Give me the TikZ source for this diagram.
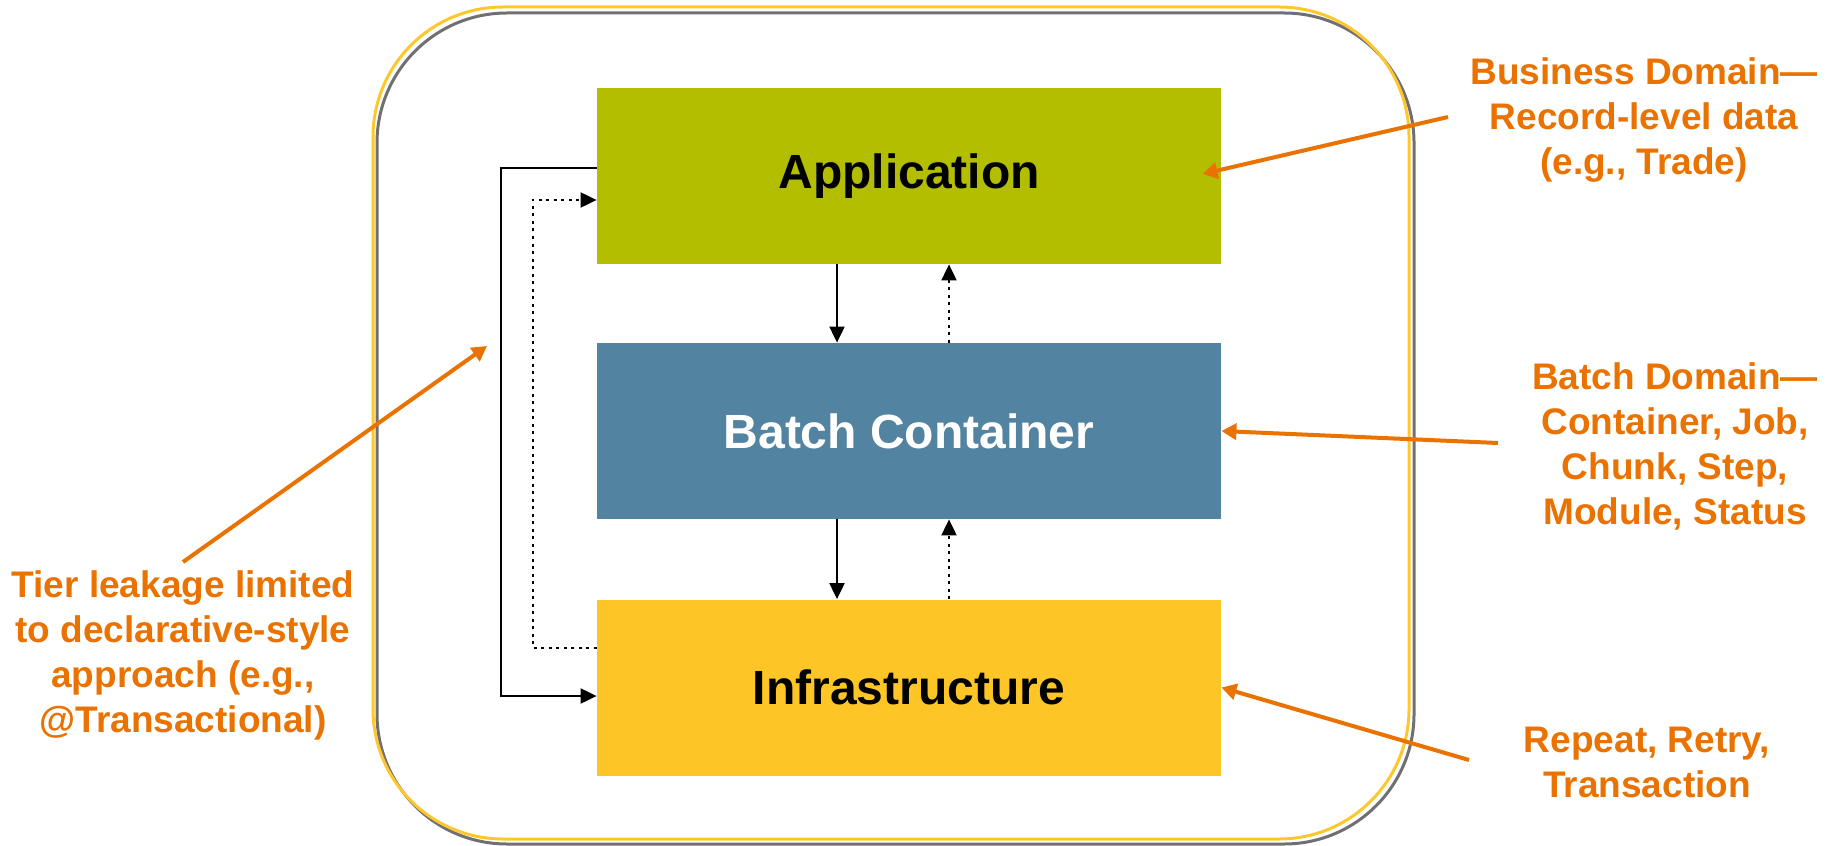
\documentclass[tikz,border=0pt]{standalone}
\usepackage{fontspec}
\setmainfont{Liberation Sans}
\usetikzlibrary{arrows.meta}
\definecolor{appgreen}{RGB}{179,190,0}
\definecolor{batchblue}{RGB}{82,131,160}
\definecolor{infrayellow}{RGB}{253,198,38}
\definecolor{noteorange}{RGB}{233,114,0}
\definecolor{rimgray}{RGB}{112,112,116}
\definecolor{rimyellow}{RGB}{255,199,44}

\begin{document}
\begin{tikzpicture}[x=0.5pt,y=-0.5pt,
  tier/.style={minimum width=312pt, minimum height=88pt, inner sep=0pt,
    font=\fontsize{24}{28}\selectfont\bfseries},
  note/.style={text=noteorange, align=center, inner sep=0pt,
    font=\fontsize{18.5}{22.5}\selectfont\bfseries},
  flow/.style={line width=1pt, -{Triangle[length=8pt,width=7.5pt]}},
  callback/.style={flow, dash pattern=on 1.5pt off 2.25pt},
  pointer/.style={draw=noteorange, line width=2pt,
    -{Triangle[length=7.5pt,width=8pt]}}]

\useasboundingbox (0,0) rectangle (1839,845);

% container outline (grey shadow + yellow rim)
\draw[rimgray, line width=1.5pt, rounded corners=65pt] (377,13) rectangle (1414,844);
\draw[rimyellow, line width=1.5pt, rounded corners=65pt] (373,7) rectangle (1409,839);

% tiers
\node[tier, fill=appgreen] (app) at (909,176) {Application};
\node[tier, fill=batchblue, text=white] (batch) at (909,431) {Batch Container};
\node[tier, fill=infrayellow] (infra) at (909,687.5) {Infrastructure};

% calls between adjacent tiers
\draw[flow] ([xshift=-36pt]app.south) -- ([xshift=-36pt]batch.north);
\draw[callback] ([xshift=20pt]batch.north) -- ([xshift=20pt]app.south);
\draw[flow] ([xshift=-36pt]batch.south) -- ([xshift=-36pt]infra.north);
\draw[callback] ([xshift=20pt]infra.north) -- ([xshift=20pt]batch.south);

% calls skipping the middle tier
\draw[flow] ([yshift=3.75pt]app.west) -- ++(-96,0) |- ([yshift=-4.25pt]infra.west);
\draw[callback] ([yshift=20pt]infra.west) -- ++(-64,0) |- ([yshift=-12pt]app.west);

% annotations
\node[note] (busnote) at (1644,120) {Business Domain—\\Record-level data\\(e.g., Trade)};
\node[note] (batchnote) at (1675,446) {Batch Domain—\\Container, Job,\\Chunk, Step,\\Module, Status};
\node[note] (infranote) at (1647,762) {Repeat, Retry,\\Transaction};
\node[note] (leaknote) at (183,655) {Tier leakage limited\\to declarative-style\\approach (e.g.,\\@Transactional)};

\coordinate (busfrom) at (1448,117);
\coordinate (batchfrom) at (1498,443);
\coordinate (infrafrom) at (1469,760);
\coordinate (leakfrom) at (183,562);
\coordinate (leakto) at (487,346);

\draw[pointer] (busfrom) -- ([xshift=-9.5pt,yshift=1pt]app.east);
\draw[pointer] (batchfrom) -- (batch.east);
\draw[pointer] (infrafrom) -- (infra.east);
\draw[pointer] (leakfrom) -- (leakto);
\end{tikzpicture}
\end{document}
